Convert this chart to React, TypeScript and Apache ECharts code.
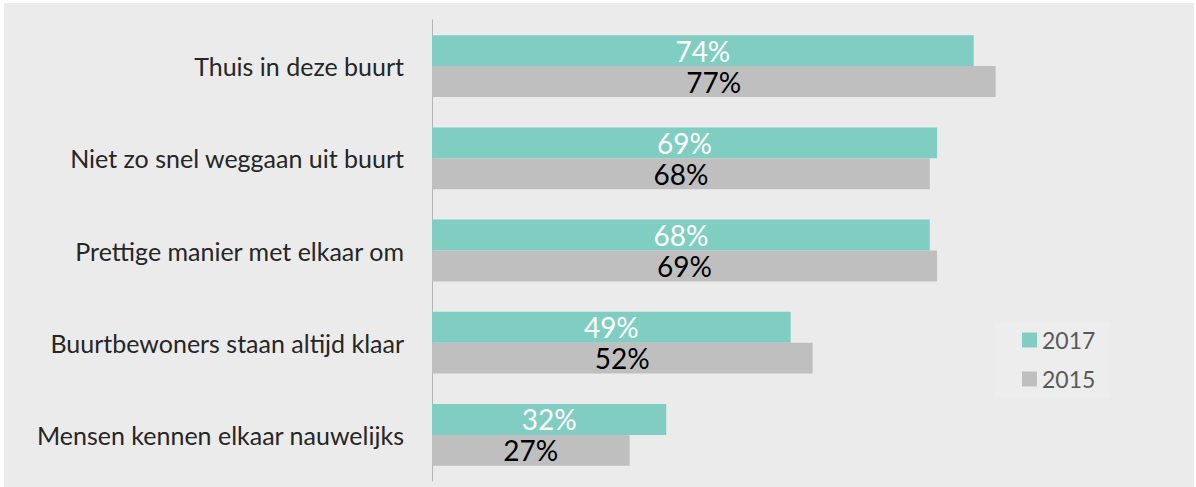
import React, { useEffect, useRef } from "react";
import * as echarts from "echarts";

const categories = [
  "Thuis in deze buurt",
  "Niet zo snel weggaan uit buurt",
  "Prettige manier met elkaar om",
  "Buurtbewoners staan altijd klaar",
  "Mensen kennen elkaar nauwelijks",
];
const seriesNames = ["2017", "2015"];
const values2017 = [74, 69, 68, 49, 32];
const values2015 = [77, 68, 69, 52, 27];

const FONT = "Lato, 'Liberation Sans', sans-serif";

export default function App() {
  const ref = useRef<HTMLDivElement>(null);
  useEffect(() => {
    document.body.style.margin = "0";
    const chart = echarts.init(ref.current!, null, { renderer: "svg" });
    chart.setOption({
      animation: false,
      backgroundColor: "#ebebeb",
      textStyle: { fontFamily: FONT },
      legend: {
        orient: "vertical",
        left: 991,
        top: 319,
        padding: [5, 14, 6, 27],
        backgroundColor: "#ededed",
        itemWidth: 15,
        itemHeight: 15,
        itemGap: 13,
        icon: "rect",
        textStyle: { fontSize: 23, color: "#595959", lineHeight: 26, fontFamily: FONT },
        data: seriesNames,
      },
      grid: { left: 428, right: 30, top: 17, bottom: 6, containLabel: false },
      xAxis: {
        type: "value",
        min: 0,
        max: 100,
        show: false,
        splitLine: { show: false },
      },
      yAxis: {
        type: "category",
        inverse: true,
        data: categories,
        axisLine: { show: true, lineStyle: { color: "#b4b4b4", width: 1 } },
        axisTick: { show: false },
        axisLabel: { margin: 28, fontSize: 25, color: "#262626", fontFamily: FONT },
      },
      series: [
        {
          name: seriesNames[0],
          type: "bar",
          data: values2017,
          barGap: "0%",
          barCategoryGap: "33%",
          itemStyle: { color: "#80cec1" },
          label: {
            show: true,
            position: "inside",
            formatter: "{c}%",
            fontSize: 28,
            color: "#ffffff",
            fontFamily: FONT,
          },
        },
        {
          name: seriesNames[1],
          type: "bar",
          data: values2015,
          barGap: "0%",
          barCategoryGap: "33%",
          itemStyle: { color: "#bfbfbf" },
          label: {
            show: true,
            position: "inside",
            formatter: "{c}%",
            fontSize: 28,
            color: "#000000",
            fontFamily: FONT,
          },
        },
      ],
    });
    return () => chart.dispose();
  }, []);
  return (
    <div style={{ width: 1196, height: 487, background: "#ffffff", position: "relative" }}>
      <div
        ref={ref}
        style={{ position: "absolute", left: 4, top: 3, width: 1190, height: 484 }}
      />
    </div>
  );
}
